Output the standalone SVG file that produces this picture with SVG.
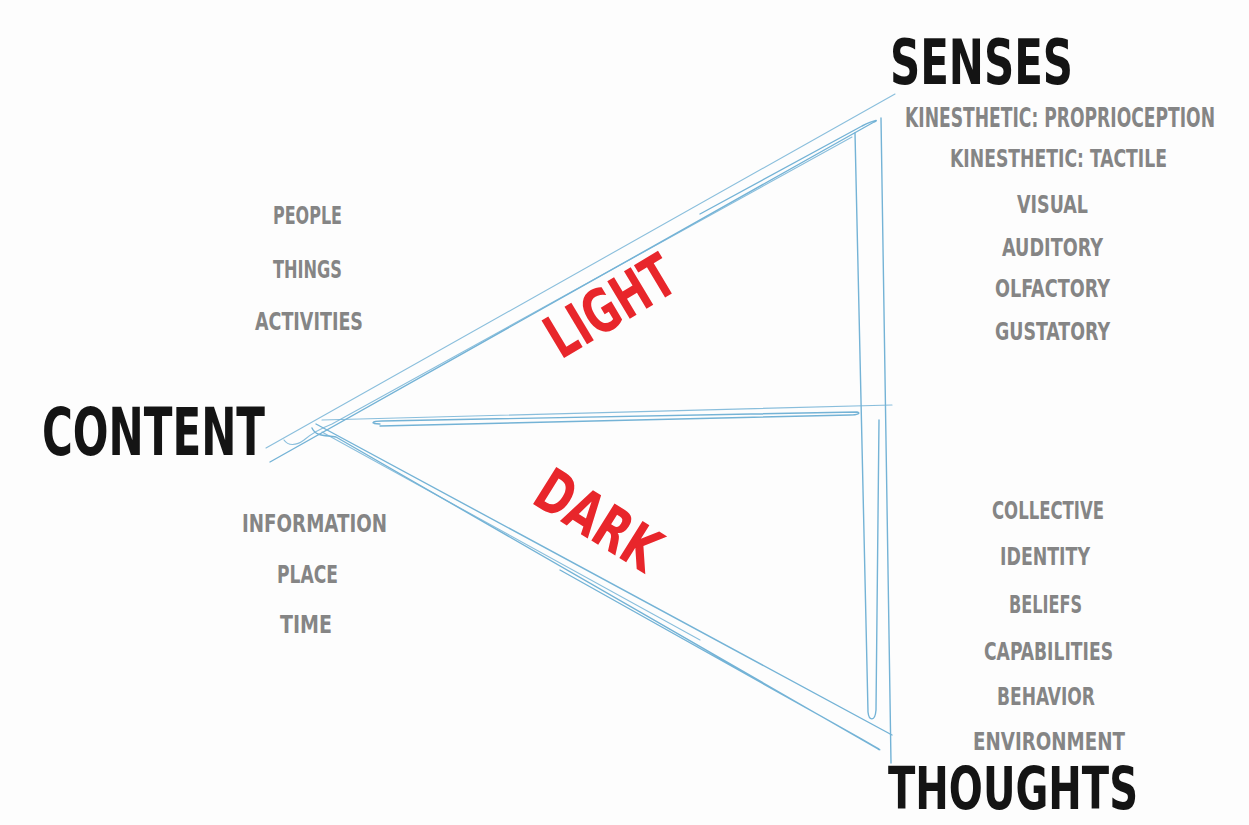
<svg xmlns="http://www.w3.org/2000/svg" width="1249" height="825" viewBox="0 0 1249 825">
  <style>
    .stroke { fill: none; stroke: #74b3d6; stroke-width: 1.4; stroke-linecap: round; stroke-linejoin: round; }
    .thin { stroke-width: 1.1; opacity: 0.85; }
    .title { font-family: "DejaVu Sans Condensed", "Liberation Sans Narrow", "DejaVu Sans", sans-serif; font-weight: bold; fill: #141414; }
    .item { font-family: "DejaVu Sans Condensed", "Liberation Sans Narrow", "DejaVu Sans", sans-serif; font-weight: bold; fill: #858585; font-size: 24px; }
    .zone { font-family: "DejaVu Sans Condensed", "Liberation Sans Narrow", "DejaVu Sans", sans-serif; font-weight: bold; fill: #e8262b; font-size: 60px; }
  </style>
  <rect width="1249" height="825" fill="#fdfdfd"/>

  <!-- hand-sketched triangle strokes -->
  <g id="connectors">
    <!-- upper edge: content to senses -->
    <path class="stroke thin" d="M266,448 L895,94"/>
    <path class="stroke" d="M270,462 L874,122 C879,120 876,119 862,126 L700,214"/>
    <path class="stroke thin" d="M284,440 C288,446 296,446 304,440 C312,433 322,428 332,424 L852,137"/>
    <!-- right edge: senses to thoughts -->
    <path class="stroke" d="M855,133 L868,712 C869,721 875,722 876,710 L879,420"/>
    <path class="stroke" d="M881,118 L891,763"/>
    <!-- middle divider -->
    <path class="stroke thin" d="M322,420 L892,405"/>
    <path class="stroke" d="M380,424 C370,424 371,421 382,421 L857,412 C861,413 858,415 850,415 L380,426"/>
    <!-- lower edge: content to thoughts -->
    <path class="stroke" d="M316,424 L892,735"/>
    <path class="stroke" d="M312,428 C316,437 326,435 336,437 L878,749 C884,752 874,746 860,738 L560,570"/>
    <path class="stroke thin" d="M322,432 L700,640"/>
  </g>

  <g id="content">
    <text class="title" x="42" y="455" font-size="66" textLength="223" lengthAdjust="spacingAndGlyphs">CONTENT</text>
  </g>
  <g id="senses">
    <text class="title" x="890" y="84" font-size="63" textLength="183" lengthAdjust="spacingAndGlyphs">SENSES</text>
  </g>
  <g id="thoughts">
    <text class="title" x="888" y="809" font-size="58" textLength="250" lengthAdjust="spacingAndGlyphs">THOUGHTS</text>
  </g>

  <g id="light">
    <text class="zone" transform="translate(610,306) rotate(-31)" x="0" y="21" text-anchor="middle" textLength="140" lengthAdjust="spacingAndGlyphs">LIGHT</text>
  </g>
  <g id="dark">
    <text class="zone" transform="translate(598,520) rotate(32)" x="0" y="21" text-anchor="middle" textLength="135" lengthAdjust="spacingAndGlyphs">DARK</text>
  </g>

  <g id="content-light-items">
    <text class="item" x="273" y="224" textLength="69" lengthAdjust="spacingAndGlyphs">PEOPLE</text>
    <text class="item" x="273" y="278" textLength="69" lengthAdjust="spacingAndGlyphs">THINGS</text>
    <text class="item" x="255" y="330" textLength="108" lengthAdjust="spacingAndGlyphs">ACTIVITIES</text>
  </g>
  <g id="content-dark-items">
    <text class="item" x="242" y="532" textLength="145" lengthAdjust="spacingAndGlyphs">INFORMATION</text>
    <text class="item" x="277" y="583" textLength="61" lengthAdjust="spacingAndGlyphs">PLACE</text>
    <text class="item" x="280" y="633" textLength="52" lengthAdjust="spacingAndGlyphs">TIME</text>
  </g>
  <g id="senses-items">
    <text class="item" transform="translate(905,127) scale(1,1.12)" x="0" y="0" font-size="21" textLength="310" lengthAdjust="spacingAndGlyphs">KINESTHETIC: PROPRIOCEPTION</text>
    <text class="item" x="950" y="167" textLength="217" lengthAdjust="spacingAndGlyphs">KINESTHETIC: TACTILE</text>
    <text class="item" x="1017" y="213" textLength="71" lengthAdjust="spacingAndGlyphs">VISUAL</text>
    <text class="item" x="1002" y="256" textLength="101" lengthAdjust="spacingAndGlyphs">AUDITORY</text>
    <text class="item" x="995" y="297" textLength="115" lengthAdjust="spacingAndGlyphs">OLFACTORY</text>
    <text class="item" x="995" y="340" textLength="115" lengthAdjust="spacingAndGlyphs">GUSTATORY</text>
  </g>
  <g id="thoughts-items">
    <text class="item" x="992" y="519" textLength="112" lengthAdjust="spacingAndGlyphs">COLLECTIVE</text>
    <text class="item" x="1000" y="565" textLength="90" lengthAdjust="spacingAndGlyphs">IDENTITY</text>
    <text class="item" x="1009" y="613" textLength="73" lengthAdjust="spacingAndGlyphs">BELIEFS</text>
    <text class="item" x="984" y="660" textLength="129" lengthAdjust="spacingAndGlyphs">CAPABILITIES</text>
    <text class="item" x="997" y="705" textLength="98" lengthAdjust="spacingAndGlyphs">BEHAVIOR</text>
    <text class="item" x="973" y="750" textLength="152" lengthAdjust="spacingAndGlyphs">ENVIRONMENT</text>
  </g>
</svg>
